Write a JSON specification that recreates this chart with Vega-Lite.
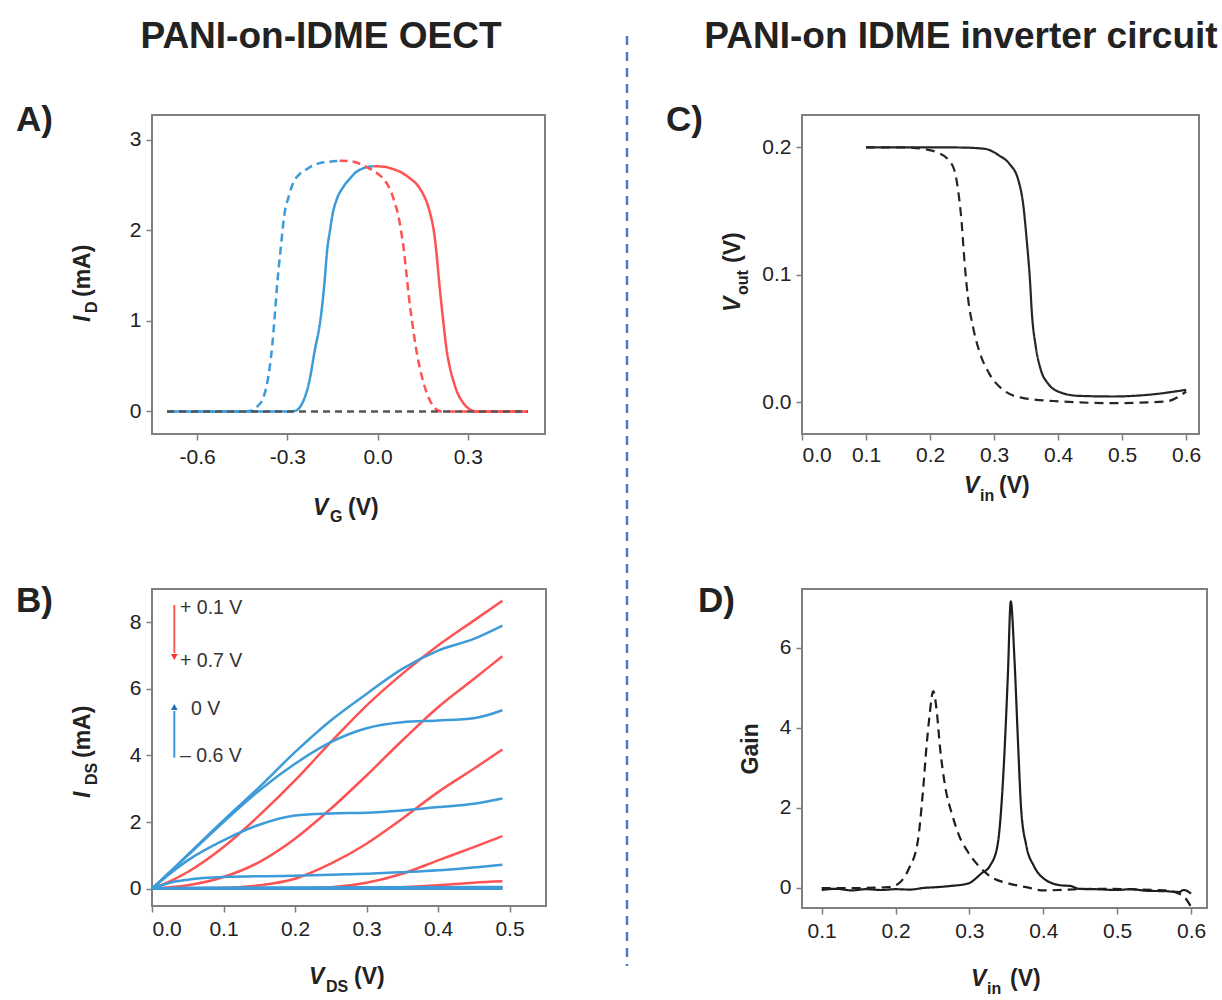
{
"$schema": "https://vega.github.io/schema/vega-lite/v6.json",
"background": "white",
"padding": {"left": 14, "top": 17, "right": 0, "bottom": 0},
"bounds": "flush",
"columns": 2,
"spacing": {"row": 155, "column": 256},
"resolve": {"scale": {"color": "independent", "strokeDash": "independent"}},
"config": {
  "view": {"stroke": "#7f7f7f", "strokeWidth": 2},
  "axis": {"domain": false, "grid": false, "tickColor": "#7f7f7f", "tickSize": 6, "tickWidth": 1.5, "labelFont": "Liberation Sans", "labelFontSize": 21, "labelColor": "#222222"},
  "axisX": {"labelPadding": 6},
  "axisY": {"labelPadding": 5},
  "text": {"font": "Liberation Sans", "color": "#222222"}
},
"concat": [
{
  "width": 393, "height": 319,
  "layer": [
    {
      "data": {"values": [
        {"sweep":"forward","branch":"rising","VG":-0.7,"ID":0},{"sweep":"forward","branch":"rising","VG":-0.3,"ID":0},{"sweep":"forward","branch":"rising","VG":-0.275,"ID":0.005},{"sweep":"forward","branch":"rising","VG":-0.26,"ID":0.04},{"sweep":"forward","branch":"rising","VG":-0.245,"ID":0.13},{"sweep":"forward","branch":"rising","VG":-0.227,"ID":0.33},{"sweep":"forward","branch":"rising","VG":-0.21,"ID":0.65},{"sweep":"forward","branch":"rising","VG":-0.188,"ID":1.06},{"sweep":"forward","branch":"rising","VG":-0.177,"ID":1.4},{"sweep":"forward","branch":"rising","VG":-0.167,"ID":1.8},{"sweep":"forward","branch":"rising","VG":-0.158,"ID":2.0},{"sweep":"forward","branch":"rising","VG":-0.15,"ID":2.17},{"sweep":"forward","branch":"rising","VG":-0.135,"ID":2.35},{"sweep":"forward","branch":"rising","VG":-0.114,"ID":2.48},{"sweep":"forward","branch":"rising","VG":-0.09,"ID":2.58},{"sweep":"forward","branch":"rising","VG":-0.073,"ID":2.64},{"sweep":"forward","branch":"rising","VG":-0.045,"ID":2.69},{"sweep":"forward","branch":"rising","VG":-0.014,"ID":2.71},
        {"sweep":"forward","branch":"falling","VG":-0.014,"ID":2.71},{"sweep":"forward","branch":"falling","VG":0.02,"ID":2.705},{"sweep":"forward","branch":"falling","VG":0.05,"ID":2.68},{"sweep":"forward","branch":"falling","VG":0.08,"ID":2.64},{"sweep":"forward","branch":"falling","VG":0.11,"ID":2.57},{"sweep":"forward","branch":"falling","VG":0.128,"ID":2.52},{"sweep":"forward","branch":"falling","VG":0.147,"ID":2.43},{"sweep":"forward","branch":"falling","VG":0.164,"ID":2.31},{"sweep":"forward","branch":"falling","VG":0.178,"ID":2.15},{"sweep":"forward","branch":"falling","VG":0.188,"ID":1.98},{"sweep":"forward","branch":"falling","VG":0.197,"ID":1.72},{"sweep":"forward","branch":"falling","VG":0.205,"ID":1.43},{"sweep":"forward","branch":"falling","VG":0.217,"ID":1.05},{"sweep":"forward","branch":"falling","VG":0.229,"ID":0.7},{"sweep":"forward","branch":"falling","VG":0.241,"ID":0.48},{"sweep":"forward","branch":"falling","VG":0.253,"ID":0.33},{"sweep":"forward","branch":"falling","VG":0.268,"ID":0.19},{"sweep":"forward","branch":"falling","VG":0.282,"ID":0.11},{"sweep":"forward","branch":"falling","VG":0.3,"ID":0.04},{"sweep":"forward","branch":"falling","VG":0.33,"ID":0},{"sweep":"forward","branch":"falling","VG":0.5,"ID":0},
        {"sweep":"backward","branch":"rising","VG":-0.7,"ID":0},{"sweep":"backward","branch":"rising","VG":-0.45,"ID":0},{"sweep":"backward","branch":"rising","VG":-0.416,"ID":0.01},{"sweep":"backward","branch":"rising","VG":-0.398,"ID":0.06},{"sweep":"backward","branch":"rising","VG":-0.38,"ID":0.15},{"sweep":"backward","branch":"rising","VG":-0.365,"ID":0.35},{"sweep":"backward","branch":"rising","VG":-0.351,"ID":0.7},{"sweep":"backward","branch":"rising","VG":-0.342,"ID":1.05},{"sweep":"backward","branch":"rising","VG":-0.333,"ID":1.43},{"sweep":"backward","branch":"rising","VG":-0.322,"ID":1.8},{"sweep":"backward","branch":"rising","VG":-0.31,"ID":2.17},{"sweep":"backward","branch":"rising","VG":-0.295,"ID":2.38},{"sweep":"backward","branch":"rising","VG":-0.28,"ID":2.53},{"sweep":"backward","branch":"rising","VG":-0.26,"ID":2.62},{"sweep":"backward","branch":"rising","VG":-0.239,"ID":2.67},{"sweep":"backward","branch":"rising","VG":-0.215,"ID":2.72},{"sweep":"backward","branch":"rising","VG":-0.191,"ID":2.745},{"sweep":"backward","branch":"rising","VG":-0.16,"ID":2.76},{"sweep":"backward","branch":"rising","VG":-0.126,"ID":2.77},
        {"sweep":"backward","branch":"falling","VG":-0.126,"ID":2.77},{"sweep":"backward","branch":"falling","VG":-0.09,"ID":2.765},{"sweep":"backward","branch":"falling","VG":-0.061,"ID":2.74},{"sweep":"backward","branch":"falling","VG":-0.03,"ID":2.69},{"sweep":"backward","branch":"falling","VG":0,"ID":2.63},{"sweep":"backward","branch":"falling","VG":0.025,"ID":2.55},{"sweep":"backward","branch":"falling","VG":0.046,"ID":2.42},{"sweep":"backward","branch":"falling","VG":0.058,"ID":2.3},{"sweep":"backward","branch":"falling","VG":0.069,"ID":2.17},{"sweep":"backward","branch":"falling","VG":0.078,"ID":2.0},{"sweep":"backward","branch":"falling","VG":0.087,"ID":1.8},{"sweep":"backward","branch":"falling","VG":0.096,"ID":1.53},{"sweep":"backward","branch":"falling","VG":0.105,"ID":1.25},{"sweep":"backward","branch":"falling","VG":0.116,"ID":0.97},{"sweep":"backward","branch":"falling","VG":0.128,"ID":0.7},{"sweep":"backward","branch":"falling","VG":0.14,"ID":0.49},{"sweep":"backward","branch":"falling","VG":0.152,"ID":0.33},{"sweep":"backward","branch":"falling","VG":0.164,"ID":0.2},{"sweep":"backward","branch":"falling","VG":0.176,"ID":0.11},{"sweep":"backward","branch":"falling","VG":0.19,"ID":0.04},{"sweep":"backward","branch":"falling","VG":0.211,"ID":0},{"sweep":"backward","branch":"falling","VG":0.5,"ID":0},
        {"sweep":"gate","branch":"gate","VG":-0.7,"ID":0},{"sweep":"gate","branch":"gate","VG":0.5,"ID":0}
      ]},
      "mark": {"type": "line", "strokeWidth": 2.5, "interpolate": "monotone"},
      "encoding": {
        "x": {"field": "VG", "type": "quantitative", "scale": {"domain": [-0.75, 0.557], "nice": false, "zero": false}, "axis": {"title": null, "values": [-0.6, -0.3, 0, 0.3], "labelExpr": "replace(format(datum.value, '.1f'), '\u2212', '-')"}},
        "y": {"field": "ID", "type": "quantitative", "scale": {"domain": [-0.249, 3.276], "nice": false, "zero": false}, "axis": {"title": null, "values": [0, 1, 2, 3], "format": "d"}},
        "color": {"field": "branch", "type": "nominal", "scale": {"domain": ["rising", "falling", "gate"], "range": ["#3d9bd8", "#ff5252", "#555555"]}, "legend": null},
        "strokeDash": {"field": "sweep", "type": "nominal", "scale": {"domain": ["forward", "backward", "gate"], "range": [[1, 0], [8, 5], [7, 5]]}, "legend": null}
      }
    },
    {"data": {"values": [{}]}, "mark": {"type": "text", "text": "PANI-on-IDME OECT", "fontSize": 37, "fontWeight": "bold", "align": "center", "baseline": "alphabetic"}, "encoding": {"x": {"datum": -0.188}, "y": {"datum": 4.016}}},
    {"data": {"values": [{}]}, "mark": {"type": "text", "text": "A)", "fontSize": 35, "fontWeight": "bold", "align": "left", "baseline": "alphabetic"}, "encoding": {"x": {"datum": -1.202}, "y": {"datum": 3.099}}},
    {"data": {"values": [{}]}, "mark": {"type": "text", "text": "V", "fontSize": 23, "fontWeight": "bold", "fontStyle": "italic", "align": "left", "baseline": "alphabetic"}, "encoding": {"x": {"datum": -0.2146}, "y": {"datum": -1.144}}},
    {"data": {"values": [{}]}, "mark": {"type": "text", "text": "G", "fontSize": 16, "fontWeight": "bold", "align": "left", "baseline": "alphabetic"}, "encoding": {"x": {"datum": -0.158}, "y": {"datum": -1.221}}},
    {"data": {"values": [{}]}, "mark": {"type": "text", "text": "(V)", "fontSize": 23, "fontWeight": "bold", "align": "left", "baseline": "alphabetic"}, "encoding": {"x": {"datum": -0.0982}, "y": {"datum": -1.144}}},
    {"data": {"values": [{}]}, "mark": {"type": "text", "text": "I", "angle": 270, "fontSize": 23, "fontWeight": "bold", "fontStyle": "italic", "align": "left", "baseline": "alphabetic"}, "encoding": {"x": {"datum": -0.956}, "y": {"datum": 0.989}}},
    {"data": {"values": [{}]}, "mark": {"type": "text", "text": "D", "angle": 270, "fontSize": 16, "fontWeight": "bold", "align": "left", "baseline": "alphabetic"}, "encoding": {"x": {"datum": -0.933}, "y": {"datum": 1.088}}},
    {"data": {"values": [{}]}, "mark": {"type": "text", "text": "(mA)", "angle": 270, "fontSize": 23, "fontWeight": "bold", "align": "left", "baseline": "alphabetic"}, "encoding": {"x": {"datum": -0.956}, "y": {"datum": 1.265}}}
  ]
},
{
  "width": 397, "height": 319,
  "layer": [
    {
      "data": {"values": [
        {"scan":"forward","Vin":0.1,"Vout":0.2},{"scan":"forward","Vin":0.15,"Vout":0.2},{"scan":"forward","Vin":0.2,"Vout":0.2},{"scan":"forward","Vin":0.25,"Vout":0.1998},{"scan":"forward","Vin":0.2865,"Vout":0.1987},{"scan":"forward","Vin":0.308,"Vout":0.1935},{"scan":"forward","Vin":0.324,"Vout":0.187},{"scan":"forward","Vin":0.338,"Vout":0.174},{"scan":"forward","Vin":0.346,"Vout":0.153},{"scan":"forward","Vin":0.351,"Vout":0.127},{"scan":"forward","Vin":0.356,"Vout":0.096},{"scan":"forward","Vin":0.359,"Vout":0.07},{"scan":"forward","Vin":0.365,"Vout":0.044},{"scan":"forward","Vin":0.373,"Vout":0.0255},{"scan":"forward","Vin":0.384,"Vout":0.015},{"scan":"forward","Vin":0.4,"Vout":0.0086},{"scan":"forward","Vin":0.432,"Vout":0.0052},{"scan":"forward","Vin":0.486,"Vout":0.0047},{"scan":"forward","Vin":0.54,"Vout":0.006},{"scan":"forward","Vin":0.6,"Vout":0.0099},
        {"scan":"reverse","Vin":0.1,"Vout":0.2},{"scan":"reverse","Vin":0.157,"Vout":0.2},{"scan":"reverse","Vin":0.189,"Vout":0.1987},{"scan":"reverse","Vin":0.211,"Vout":0.196},{"scan":"reverse","Vin":0.227,"Vout":0.191},{"scan":"reverse","Vin":0.238,"Vout":0.182},{"scan":"reverse","Vin":0.243,"Vout":0.169},{"scan":"reverse","Vin":0.249,"Vout":0.143},{"scan":"reverse","Vin":0.254,"Vout":0.109},{"scan":"reverse","Vin":0.259,"Vout":0.083},{"scan":"reverse","Vin":0.268,"Vout":0.057},{"scan":"reverse","Vin":0.278,"Vout":0.0385},{"scan":"reverse","Vin":0.292,"Vout":0.023},{"scan":"reverse","Vin":0.314,"Vout":0.0099},{"scan":"reverse","Vin":0.346,"Vout":0.0034},{"scan":"reverse","Vin":0.405,"Vout":0.0008},{"scan":"reverse","Vin":0.486,"Vout":-0.0005},{"scan":"reverse","Vin":0.568,"Vout":0.0008},{"scan":"reverse","Vin":0.6,"Vout":0.0086}
      ]},
      "mark": {"type": "line", "strokeWidth": 2.2, "color": "#262626", "interpolate": "monotone"},
      "encoding": {
        "x": {"field": "Vin", "type": "quantitative", "scale": {"domain": [0, 0.62], "nice": false, "zero": false}, "axis": {"title": null, "values": [0, 0.1, 0.2, 0.3, 0.4, 0.5, 0.6], "format": ".1f", "labelPadding": 4.5}},
        "y": {"field": "Vout", "type": "quantitative", "scale": {"domain": [-0.0247, 0.2253], "nice": false, "zero": false}, "axis": {"title": null, "values": [0, 0.1, 0.2], "format": ".1f"}},
        "strokeDash": {"field": "scan", "type": "nominal", "scale": {"domain": ["forward", "reverse"], "range": [[1, 0], [9, 6]]}, "legend": null}
      }
    },
    {"data": {"values": [{}]}, "mark": {"type": "rule", "color": "#4a78d0", "strokeWidth": 2.5, "strokeDash": [9, 7]}, "encoding": {"x": {"datum": -0.2733}, "y": {"datum": 0.2872}, "y2": {"datum": -0.4416}}},
    {"data": {"values": [{}]}, "mark": {"type": "text", "text": "PANI-on IDME inverter circuit", "fontSize": 37, "fontWeight": "bold", "align": "center", "baseline": "alphabetic"}, "encoding": {"x": {"datum": 0.2483}, "y": {"datum": 0.2778}}},
    {"data": {"values": [{}]}, "mark": {"type": "text", "text": "C)", "fontSize": 35, "fontWeight": "bold", "align": "left", "baseline": "alphabetic"}, "encoding": {"x": {"datum": -0.2124}, "y": {"datum": 0.2128}}},
    {"data": {"values": [{}]}, "mark": {"type": "text", "text": "V", "fontSize": 23, "fontWeight": "bold", "fontStyle": "italic", "align": "left", "baseline": "alphabetic"}, "encoding": {"x": {"datum": 0.253}, "y": {"datum": -0.0709}}},
    {"data": {"values": [{}]}, "mark": {"type": "text", "text": "in", "fontSize": 16, "fontWeight": "bold", "align": "left", "baseline": "alphabetic"}, "encoding": {"x": {"datum": 0.278}, "y": {"datum": -0.0772}}},
    {"data": {"values": [{}]}, "mark": {"type": "text", "text": "(V)", "fontSize": 23, "fontWeight": "bold", "align": "left", "baseline": "alphabetic"}, "encoding": {"x": {"datum": 0.3077}, "y": {"datum": -0.0709}}},
    {"data": {"values": [{}]}, "mark": {"type": "text", "text": "V", "angle": 270, "fontSize": 23, "fontWeight": "bold", "fontStyle": "italic", "align": "left", "baseline": "alphabetic"}, "encoding": {"x": {"datum": -0.0968}, "y": {"datum": 0.0709}}},
    {"data": {"values": [{}]}, "mark": {"type": "text", "text": "out", "angle": 270, "fontSize": 16, "fontWeight": "bold", "align": "left", "baseline": "alphabetic"}, "encoding": {"x": {"datum": -0.0843}, "y": {"datum": 0.0842}}},
    {"data": {"values": [{}]}, "mark": {"type": "text", "text": "(V)", "angle": 270, "fontSize": 23, "fontWeight": "bold", "align": "left", "baseline": "alphabetic"}, "encoding": {"x": {"datum": -0.0968}, "y": {"datum": 0.1093}}}
  ]
},
{
  "width": 394, "height": 317,
  "layer": [
    {
      "data": {"values": [
        {"VG":0.1,"polarity":"positive","VDS":0,"IDS":0},{"VG":0.1,"polarity":"positive","VDS":0.025,"IDS":0.22},{"VG":0.1,"polarity":"positive","VDS":0.05,"IDS":0.5},{"VG":0.1,"polarity":"positive","VDS":0.1,"IDS":1.25},{"VG":0.1,"polarity":"positive","VDS":0.15,"IDS":2.2},{"VG":0.1,"polarity":"positive","VDS":0.2,"IDS":3.25},{"VG":0.1,"polarity":"positive","VDS":0.25,"IDS":4.4},{"VG":0.1,"polarity":"positive","VDS":0.3,"IDS":5.5},{"VG":0.1,"polarity":"positive","VDS":0.35,"IDS":6.45},{"VG":0.1,"polarity":"positive","VDS":0.4,"IDS":7.3},{"VG":0.1,"polarity":"positive","VDS":0.45,"IDS":8.05},{"VG":0.1,"polarity":"positive","VDS":0.49,"IDS":8.65},
        {"VG":0.2,"polarity":"positive","VDS":0,"IDS":0},{"VG":0.2,"polarity":"positive","VDS":0.05,"IDS":0.1},{"VG":0.2,"polarity":"positive","VDS":0.1,"IDS":0.35},{"VG":0.2,"polarity":"positive","VDS":0.15,"IDS":0.8},{"VG":0.2,"polarity":"positive","VDS":0.2,"IDS":1.5},{"VG":0.2,"polarity":"positive","VDS":0.25,"IDS":2.4},{"VG":0.2,"polarity":"positive","VDS":0.3,"IDS":3.4},{"VG":0.2,"polarity":"positive","VDS":0.35,"IDS":4.45},{"VG":0.2,"polarity":"positive","VDS":0.4,"IDS":5.45},{"VG":0.2,"polarity":"positive","VDS":0.45,"IDS":6.3},{"VG":0.2,"polarity":"positive","VDS":0.49,"IDS":6.98},
        {"VG":0.3,"polarity":"positive","VDS":0,"IDS":0},{"VG":0.3,"polarity":"positive","VDS":0.1,"IDS":0.02},{"VG":0.3,"polarity":"positive","VDS":0.15,"IDS":0.1},{"VG":0.3,"polarity":"positive","VDS":0.2,"IDS":0.3},{"VG":0.3,"polarity":"positive","VDS":0.25,"IDS":0.75},{"VG":0.3,"polarity":"positive","VDS":0.3,"IDS":1.35},{"VG":0.3,"polarity":"positive","VDS":0.35,"IDS":2.1},{"VG":0.3,"polarity":"positive","VDS":0.4,"IDS":2.9},{"VG":0.3,"polarity":"positive","VDS":0.45,"IDS":3.6},{"VG":0.3,"polarity":"positive","VDS":0.49,"IDS":4.18},
        {"VG":0.4,"polarity":"positive","VDS":0,"IDS":0},{"VG":0.4,"polarity":"positive","VDS":0.2,"IDS":0},{"VG":0.4,"polarity":"positive","VDS":0.25,"IDS":0.04},{"VG":0.4,"polarity":"positive","VDS":0.3,"IDS":0.18},{"VG":0.4,"polarity":"positive","VDS":0.35,"IDS":0.45},{"VG":0.4,"polarity":"positive","VDS":0.4,"IDS":0.85},{"VG":0.4,"polarity":"positive","VDS":0.45,"IDS":1.25},{"VG":0.4,"polarity":"positive","VDS":0.49,"IDS":1.58},
        {"VG":0.5,"polarity":"positive","VDS":0,"IDS":0},{"VG":0.5,"polarity":"positive","VDS":0.3,"IDS":0},{"VG":0.5,"polarity":"positive","VDS":0.35,"IDS":0.04},{"VG":0.5,"polarity":"positive","VDS":0.4,"IDS":0.1},{"VG":0.5,"polarity":"positive","VDS":0.45,"IDS":0.18},{"VG":0.5,"polarity":"positive","VDS":0.49,"IDS":0.22},
        {"VG":0.6,"polarity":"positive","VDS":0,"IDS":0},{"VG":0.6,"polarity":"positive","VDS":0.4,"IDS":0.01},{"VG":0.6,"polarity":"positive","VDS":0.49,"IDS":0.04},
        {"VG":0.7,"polarity":"positive","VDS":0,"IDS":0},{"VG":0.7,"polarity":"positive","VDS":0.49,"IDS":0.01},
        {"VG":0,"polarity":"negative","VDS":0,"IDS":0},{"VG":0,"polarity":"negative","VDS":0.025,"IDS":0.5},{"VG":0,"polarity":"negative","VDS":0.05,"IDS":1.02},{"VG":0,"polarity":"negative","VDS":0.1,"IDS":2.05},{"VG":0,"polarity":"negative","VDS":0.15,"IDS":3.05},{"VG":0,"polarity":"negative","VDS":0.2,"IDS":4.1},{"VG":0,"polarity":"negative","VDS":0.25,"IDS":5.05},{"VG":0,"polarity":"negative","VDS":0.3,"IDS":5.85},{"VG":0,"polarity":"negative","VDS":0.35,"IDS":6.6},{"VG":0,"polarity":"negative","VDS":0.4,"IDS":7.15},{"VG":0,"polarity":"negative","VDS":0.45,"IDS":7.5},{"VG":0,"polarity":"negative","VDS":0.49,"IDS":7.9},
        {"VG":-0.1,"polarity":"negative","VDS":0,"IDS":0},{"VG":-0.1,"polarity":"negative","VDS":0.025,"IDS":0.5},{"VG":-0.1,"polarity":"negative","VDS":0.05,"IDS":1.0},{"VG":-0.1,"polarity":"negative","VDS":0.1,"IDS":2.0},{"VG":-0.1,"polarity":"negative","VDS":0.15,"IDS":2.95},{"VG":-0.1,"polarity":"negative","VDS":0.2,"IDS":3.75},{"VG":-0.1,"polarity":"negative","VDS":0.25,"IDS":4.4},{"VG":-0.1,"polarity":"negative","VDS":0.3,"IDS":4.82},{"VG":-0.1,"polarity":"negative","VDS":0.35,"IDS":5.0},{"VG":-0.1,"polarity":"negative","VDS":0.4,"IDS":5.05},{"VG":-0.1,"polarity":"negative","VDS":0.45,"IDS":5.12},{"VG":-0.1,"polarity":"negative","VDS":0.49,"IDS":5.36},
        {"VG":-0.2,"polarity":"negative","VDS":0,"IDS":0},{"VG":-0.2,"polarity":"negative","VDS":0.025,"IDS":0.45},{"VG":-0.2,"polarity":"negative","VDS":0.05,"IDS":0.85},{"VG":-0.2,"polarity":"negative","VDS":0.1,"IDS":1.45},{"VG":-0.2,"polarity":"negative","VDS":0.15,"IDS":1.92},{"VG":-0.2,"polarity":"negative","VDS":0.2,"IDS":2.2},{"VG":-0.2,"polarity":"negative","VDS":0.25,"IDS":2.26},{"VG":-0.2,"polarity":"negative","VDS":0.3,"IDS":2.28},{"VG":-0.2,"polarity":"negative","VDS":0.35,"IDS":2.35},{"VG":-0.2,"polarity":"negative","VDS":0.4,"IDS":2.45},{"VG":-0.2,"polarity":"negative","VDS":0.45,"IDS":2.55},{"VG":-0.2,"polarity":"negative","VDS":0.49,"IDS":2.71},
        {"VG":-0.3,"polarity":"negative","VDS":0,"IDS":0},{"VG":-0.3,"polarity":"negative","VDS":0.025,"IDS":0.18},{"VG":-0.3,"polarity":"negative","VDS":0.05,"IDS":0.27},{"VG":-0.3,"polarity":"negative","VDS":0.1,"IDS":0.35},{"VG":-0.3,"polarity":"negative","VDS":0.2,"IDS":0.39},{"VG":-0.3,"polarity":"negative","VDS":0.3,"IDS":0.45},{"VG":-0.3,"polarity":"negative","VDS":0.4,"IDS":0.55},{"VG":-0.3,"polarity":"negative","VDS":0.49,"IDS":0.72},
        {"VG":-0.4,"polarity":"negative","VDS":0,"IDS":0},{"VG":-0.4,"polarity":"negative","VDS":0.05,"IDS":0.03},{"VG":-0.4,"polarity":"negative","VDS":0.49,"IDS":0.05},
        {"VG":-0.5,"polarity":"negative","VDS":0,"IDS":0},{"VG":-0.5,"polarity":"negative","VDS":0.49,"IDS":0.02},
        {"VG":-0.6,"polarity":"negative","VDS":0,"IDS":0},{"VG":-0.6,"polarity":"negative","VDS":0.49,"IDS":0}
      ]},
      "mark": {"type": "line", "strokeWidth": 2.5, "interpolate": "monotone"},
      "encoding": {
        "x": {"field": "VDS", "type": "quantitative", "scale": {"domain": [0, 0.551], "nice": false, "zero": false}, "axis": {"title": null, "values": [0, 0.1, 0.2, 0.3, 0.4, 0.5], "format": ".1f"}},
        "y": {"field": "IDS", "type": "quantitative", "scale": {"domain": [-0.52, 9.0], "nice": false, "zero": false}, "axis": {"title": null, "values": [0, 2, 4, 6, 8], "format": "d"}},
        "detail": {"field": "VG", "type": "nominal"},
        "color": {"field": "polarity", "type": "nominal", "scale": {"domain": ["positive", "negative"], "range": ["#ff5252", "#3d9bd8"]}, "legend": null}
      }
    },
    {"data": {"values": [{}]}, "mark": {"type": "rule", "color": "#ff5a5a", "strokeWidth": 2}, "encoding": {"x": {"datum": 0.0312}, "y": {"datum": 8.52}, "y2": {"datum": 7.08}}},
    {"data": {"values": [{}]}, "mark": {"type": "point", "shape": "triangle-down", "filled": true, "size": 45, "color": "#ff3030", "opacity": 1}, "encoding": {"x": {"datum": 0.0312}, "y": {"datum": 6.958}}},
    {"data": {"values": [{}]}, "mark": {"type": "rule", "color": "#3d9bd8", "strokeWidth": 2}, "encoding": {"x": {"datum": 0.0312}, "y": {"datum": 3.934}, "y2": {"datum": 5.336}}},
    {"data": {"values": [{}]}, "mark": {"type": "point", "shape": "triangle-up", "filled": true, "size": 45, "color": "#1f6fb8", "opacity": 1}, "encoding": {"x": {"datum": 0.0312}, "y": {"datum": 5.456}}},
    {"data": {"values": [{}]}, "mark": {"type": "text", "text": "+ 0.1 V", "fontSize": 19.5, "color": "#333333", "align": "left", "baseline": "middle"}, "encoding": {"x": {"datum": 0.0392}, "y": {"datum": 8.44}}},
    {"data": {"values": [{}]}, "mark": {"type": "text", "text": "+ 0.7 V", "fontSize": 19.5, "color": "#333333", "align": "left", "baseline": "middle"}, "encoding": {"x": {"datum": 0.0392}, "y": {"datum": 6.838}}},
    {"data": {"values": [{}]}, "mark": {"type": "text", "text": "0 V", "fontSize": 19.5, "color": "#333333", "align": "left", "baseline": "middle"}, "encoding": {"x": {"datum": 0.0545}, "y": {"datum": 5.405}}},
    {"data": {"values": [{}]}, "mark": {"type": "text", "text": "– 0.6 V", "fontSize": 19.5, "color": "#333333", "align": "left", "baseline": "middle"}, "encoding": {"x": {"datum": 0.0392}, "y": {"datum": 3.985}}},
    {"data": {"values": [{}]}, "mark": {"type": "text", "text": "B)", "fontSize": 35, "fontWeight": "bold", "align": "left", "baseline": "alphabetic"}, "encoding": {"x": {"datum": -0.1902}, "y": {"datum": 8.309}}},
    {"data": {"values": [{}]}, "mark": {"type": "text", "text": "V", "fontSize": 23, "fontWeight": "bold", "fontStyle": "italic", "align": "left", "baseline": "alphabetic"}, "encoding": {"x": {"datum": 0.2196}, "y": {"datum": -2.862}}},
    {"data": {"values": [{}]}, "mark": {"type": "text", "text": "DS", "fontSize": 16, "fontWeight": "bold", "align": "left", "baseline": "alphabetic"}, "encoding": {"x": {"datum": 0.2434}, "y": {"datum": -3.102}}},
    {"data": {"values": [{}]}, "mark": {"type": "text", "text": "(V)", "fontSize": 23, "fontWeight": "bold", "align": "left", "baseline": "alphabetic"}, "encoding": {"x": {"datum": 0.2825}, "y": {"datum": -2.862}}},
    {"data": {"values": [{}]}, "mark": {"type": "text", "text": "I", "angle": 270, "fontSize": 23, "fontWeight": "bold", "fontStyle": "italic", "align": "left", "baseline": "alphabetic"}, "encoding": {"x": {"datum": -0.0867}, "y": {"datum": 2.724}}},
    {"data": {"values": [{}]}, "mark": {"type": "text", "text": "DS", "angle": 270, "fontSize": 16, "fontWeight": "bold", "align": "left", "baseline": "alphabetic"}, "encoding": {"x": {"datum": -0.0769}, "y": {"datum": 3.114}}},
    {"data": {"values": [{}]}, "mark": {"type": "text", "text": "(mA)", "angle": 270, "fontSize": 23, "fontWeight": "bold", "align": "left", "baseline": "alphabetic"}, "encoding": {"x": {"datum": -0.0867}, "y": {"datum": 3.925}}}
  ]
},
{
  "width": 405, "height": 319,
  "layer": [
    {
      "data": {"values": [
        {"scan":"forward","Vin":0.1,"Gain":-0.05},{"scan":"forward","Vin":0.12,"Gain":-0.02},{"scan":"forward","Vin":0.14,"Gain":-0.06},{"scan":"forward","Vin":0.16,"Gain":-0.03},{"scan":"forward","Vin":0.18,"Gain":-0.05},{"scan":"forward","Vin":0.2,"Gain":-0.03},{"scan":"forward","Vin":0.22,"Gain":-0.04},{"scan":"forward","Vin":0.237,"Gain":0.0},{"scan":"forward","Vin":0.255,"Gain":0.02},{"scan":"forward","Vin":0.274,"Gain":0.05},{"scan":"forward","Vin":0.298,"Gain":0.11},{"scan":"forward","Vin":0.316,"Gain":0.36},{"scan":"forward","Vin":0.328,"Gain":0.56},{"scan":"forward","Vin":0.338,"Gain":1.06},{"scan":"forward","Vin":0.342,"Gain":1.73},{"scan":"forward","Vin":0.347,"Gain":3.22},{"scan":"forward","Vin":0.352,"Gain":5.29},{"scan":"forward","Vin":0.356,"Gain":7.16},{"scan":"forward","Vin":0.361,"Gain":5.71},{"scan":"forward","Vin":0.366,"Gain":3.55},{"scan":"forward","Vin":0.37,"Gain":1.98},{"scan":"forward","Vin":0.377,"Gain":1.06},{"scan":"forward","Vin":0.387,"Gain":0.56},{"scan":"forward","Vin":0.401,"Gain":0.23},{"scan":"forward","Vin":0.424,"Gain":0.066},{"scan":"forward","Vin":0.437,"Gain":0.05},{"scan":"forward","Vin":0.448,"Gain":-0.02},{"scan":"forward","Vin":0.47,"Gain":-0.03},{"scan":"forward","Vin":0.5,"Gain":-0.05},{"scan":"forward","Vin":0.518,"Gain":-0.03},{"scan":"forward","Vin":0.54,"Gain":-0.07},{"scan":"forward","Vin":0.565,"Gain":-0.08},{"scan":"forward","Vin":0.584,"Gain":-0.1},{"scan":"forward","Vin":0.59,"Gain":-0.05},{"scan":"forward","Vin":0.6,"Gain":-0.14},
        {"scan":"reverse","Vin":0.1,"Gain":0.0},{"scan":"reverse","Vin":0.15,"Gain":0.0},{"scan":"reverse","Vin":0.19,"Gain":0.02},{"scan":"reverse","Vin":0.204,"Gain":0.11},{"scan":"reverse","Vin":0.218,"Gain":0.48},{"scan":"reverse","Vin":0.23,"Gain":1.15},{"scan":"reverse","Vin":0.237,"Gain":2.39},{"scan":"reverse","Vin":0.242,"Gain":3.55},{"scan":"reverse","Vin":0.246,"Gain":4.3},{"scan":"reverse","Vin":0.251,"Gain":4.92},{"scan":"reverse","Vin":0.256,"Gain":4.38},{"scan":"reverse","Vin":0.26,"Gain":3.55},{"scan":"reverse","Vin":0.267,"Gain":2.56},{"scan":"reverse","Vin":0.277,"Gain":1.81},{"scan":"reverse","Vin":0.286,"Gain":1.31},{"scan":"reverse","Vin":0.298,"Gain":0.9},{"scan":"reverse","Vin":0.312,"Gain":0.56},{"scan":"reverse","Vin":0.33,"Gain":0.27},{"scan":"reverse","Vin":0.354,"Gain":0.11},{"scan":"reverse","Vin":0.377,"Gain":0.02},{"scan":"reverse","Vin":0.4,"Gain":-0.06},{"scan":"reverse","Vin":0.471,"Gain":-0.02},{"scan":"reverse","Vin":0.565,"Gain":-0.06},{"scan":"reverse","Vin":0.588,"Gain":-0.18},{"scan":"reverse","Vin":0.6,"Gain":-0.47}
      ]},
      "mark": {"type": "line", "strokeWidth": 2.2, "color": "#1e1e1e", "interpolate": "monotone"},
      "encoding": {
        "x": {"field": "Vin", "type": "quantitative", "scale": {"domain": [0.0734, 0.6216], "nice": false, "zero": false}, "axis": {"title": null, "values": [0.1, 0.2, 0.3, 0.4, 0.5, 0.6], "format": ".1f", "labelPadding": 6.5}},
        "y": {"field": "Gain", "type": "quantitative", "scale": {"domain": [-0.5, 7.47], "nice": false, "zero": false}, "axis": {"title": null, "values": [0, 2, 4, 6], "format": "d"}},
        "strokeDash": {"field": "scan", "type": "nominal", "scale": {"domain": ["forward", "reverse"], "range": [[1, 0], [9, 6]]}, "legend": null}
      }
    },
    {"data": {"values": [{}]}, "mark": {"type": "text", "text": "D)", "fontSize": 35, "fontWeight": "bold", "align": "left", "baseline": "alphabetic"}, "encoding": {"x": {"datum": -0.0674}, "y": {"datum": 6.896}}},
    {"data": {"values": [{}]}, "mark": {"type": "text", "text": "V", "fontSize": 23, "fontWeight": "bold", "fontStyle": "italic", "align": "left", "baseline": "alphabetic"}, "encoding": {"x": {"datum": 0.3021}, "y": {"datum": -2.438}}},
    {"data": {"values": [{}]}, "mark": {"type": "text", "text": "in", "fontSize": 16, "fontWeight": "bold", "align": "left", "baseline": "alphabetic"}, "encoding": {"x": {"datum": 0.3238}, "y": {"datum": -2.637}}},
    {"data": {"values": [{}]}, "mark": {"type": "text", "text": "(V)", "fontSize": 23, "fontWeight": "bold", "align": "left", "baseline": "alphabetic"}, "encoding": {"x": {"datum": 0.3549}, "y": {"datum": -2.438}}},
    {"data": {"values": [{}]}, "mark": {"type": "text", "text": "Gain", "angle": 270, "fontSize": 23, "fontWeight": "bold", "align": "center", "baseline": "alphabetic"}, "encoding": {"x": {"datum": 0.0138}, "y": {"datum": 3.477}}}
  ]
}
]
}
